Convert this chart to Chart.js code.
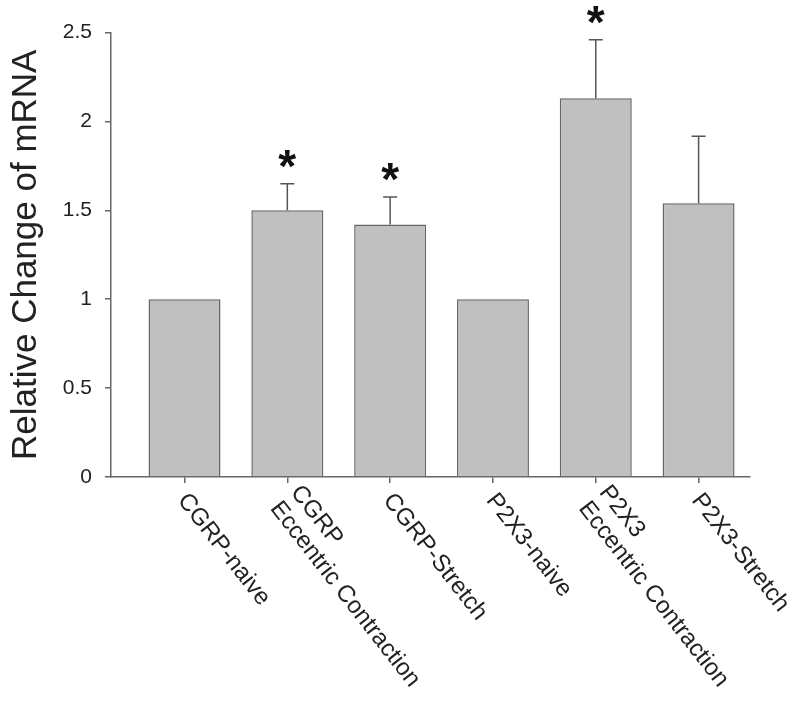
<!DOCTYPE html>
<html><head><meta charset="utf-8">
<script src="https://cdn.jsdelivr.net/npm/chart.js@4/dist/chart.umd.min.js"></script>
<style>html,body{margin:0;padding:0;background:#fff}#wrap{width:800px;height:706px;position:relative}</style>
</head><body><div id="wrap"><canvas id="c" width="800" height="706"></canvas></div>
<script>
const categories = [["CGRP-naive"], ["CGRP", "Eccentric Contraction"], ["CGRP-Stretch"], ["P2X3-naive"], ["P2X3", "Eccentric Contraction"], ["P2X3-Stretch"]];
const values = [1.0, 1.50, 1.42, 1.0, 2.13, 1.54];
const errors = [0, 0.15, 0.155, 0, 0.33, 0.377];
const significant = [false, true, true, false, true, false];
const yTicks = [0, 0.5, 1, 1.5, 2, 2.5];

const FONT = "'Liberation Sans', Arial, Helvetica, sans-serif";
const AXIS = '#666666';
const TEXT = '#222222';

const extrasPlugin = {
  id: 'extras',
  afterDatasetsDraw(chart) {
    const ctx = chart.ctx, xs = chart.scales.x, ys = chart.scales.y;
    ctx.save();
    ctx.strokeStyle = '#555555';
    ctx.lineWidth = 1.5;
    values.forEach((v, i) => {
      const px = xs.getPixelForValue(i);
      const y1 = ys.getPixelForValue(v);
      const y2 = ys.getPixelForValue(v + errors[i]);
      if (errors[i] > 0) {
        ctx.beginPath();
        ctx.moveTo(px, y1); ctx.lineTo(px, y2);
        ctx.moveTo(px - 7, y2); ctx.lineTo(px + 7, y2);
        ctx.stroke();
      }
      if (significant[i]) {
        ctx.font = 'bold 46px ' + FONT;
        ctx.fillStyle = '#111111';
        ctx.textAlign = 'left';
        ctx.textBaseline = 'alphabetic';
        const m = ctx.measureText('*');
        const cy = y2 - 25;
        const by = cy + (m.actualBoundingBoxAscent - m.actualBoundingBoxDescent) / 2;
        const bx = px - (m.actualBoundingBoxRight - m.actualBoundingBoxLeft) / 2 + m.actualBoundingBoxLeft;
        ctx.fillText('*', bx, by);
      }
    });
    ctx.restore();
  },
  afterDraw(chart) {
    const ctx = chart.ctx, xs = chart.scales.x;
    const th = 52 * Math.PI / 180;
    const dx = -Math.sin(th), dy = Math.cos(th);
    const fs = 24, L = 26;
    ctx.save();
    ctx.font = fs + 'px ' + FONT;
    ctx.fillStyle = TEXT;
    ctx.textAlign = 'left';
    ctx.textBaseline = 'alphabetic';
    categories.forEach((lines, i) => {
      const px = xs.getPixelForValue(i);
      const ax = px + 6, ay = 490;
      const n = lines.length;
      lines.forEach((t, j) => {
        const k = (j - (n - 1) / 2) * L + 0.716 * fs;
        const ox = ax + k * dx, oy = ay + k * dy;
        ctx.save();
        ctx.translate(ox, oy);
        ctx.rotate(th);
        ctx.fillText(t, 0, 0);
        ctx.restore();
      });
    });
    ctx.restore();
  }
};

new Chart(document.getElementById('c'), {
  type: 'bar',
  data: {
    datasets: [{
      data: values.map((v, i) => ({ x: i, y: v })),
      backgroundColor: '#c0c0c0',
      borderColor: '#666666',
      borderWidth: 1.5,
      barPercentage: 0.7,
      categoryPercentage: 1.0
    }]
  },
  options: {
    responsive: false,
    animation: false,
    devicePixelRatio: 1,
    layout: { padding: { top: 32.6, right: 50, left: 0, bottom: 0 } },
    plugins: { legend: { display: false }, tooltip: { enabled: false } },
    scales: {
      x: {
        type: 'linear',
        min: -0.715,
        max: 5.5,
        offset: false,
        grid: { display: true, offset: false, drawOnChartArea: false, drawTicks: true, tickLength: 6, color: AXIS, lineWidth: 1.5 },
        border: { display: true, color: AXIS, width: 1.5 },
        ticks: { display: false },
        afterBuildTicks: s => { s.ticks = categories.map((c, i) => ({ value: i })); },
        afterFit: s => { s.height = 229; }
      },
      y: {
        min: 0,
        max: 2.5,
        afterBuildTicks: s => { s.ticks = yTicks.map(v => ({ value: v })); },
        ticks: { font: { family: FONT, size: 21 }, color: TEXT, padding: 13,
          callback: v => String(v) },
        grid: { display: true, drawOnChartArea: false, drawTicks: true, tickLength: 6, color: AXIS, lineWidth: 1.5 },
        border: { display: true, color: AXIS, width: 1.5 },
        title: { display: true, text: 'Relative Change of mRNA', color: TEXT,
          font: { family: FONT, size: 35 }, padding: { top: 5, bottom: 4 } },
        afterFit: s => { s.width = 111; }
      }
    }
  },
  plugins: [extrasPlugin]
});
</script></body></html>
